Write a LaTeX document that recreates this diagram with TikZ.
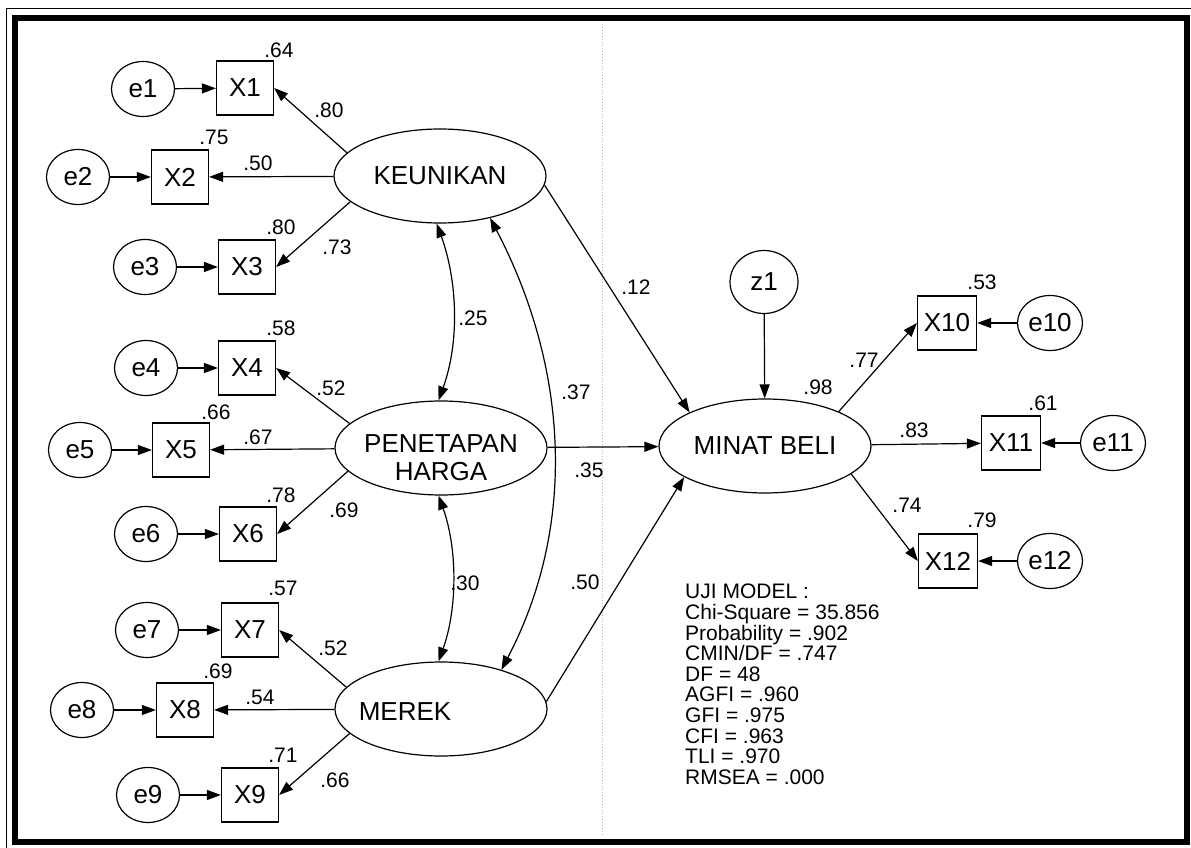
\documentclass[tikz,border=0pt]{standalone}
\usepackage{fontspec}
\setmainfont{Liberation Sans}
\usetikzlibrary{arrows.meta,shapes.geometric}
\begin{document}
\begin{tikzpicture}[x=1pt,y=-1pt,
  lat/.style={draw,ellipse,line width=1.2pt,minimum width=212pt,minimum height=94pt,inner sep=0pt,font=\fontsize{26}{28}\selectfont},
  obs/.style={draw,rectangle,line width=1.2pt,minimum width=57pt,minimum height=54pt,inner sep=0pt,font=\fontsize{26}{28}\selectfont},
  err/.style={draw,ellipse,line width=1.2pt,minimum width=63pt,minimum height=55pt,inner sep=0pt,font=\fontsize{26}{28}\selectfont},
  txt/.style={inner sep=0pt,font=\fontsize{26}{28}\selectfont},
  lbl/.style={inner sep=0pt,font=\fontsize{21}{21}\selectfont},
  arr/.style={line width=1.2pt,-{Triangle[length=14pt,width=10pt]}},
  cov/.style={line width=1.2pt,{Triangle[length=14pt,width=10pt]}-{Triangle[length=14pt,width=10pt]}}]
\useasboundingbox (0,0) rectangle (1191,848);
\fill[white] (0,0) rectangle (1191,848);
% frame
\draw[line width=6pt] (15,18.5) rectangle (1187,841.5);
\draw[line width=1pt] (6,848) -- (6,9) -- (1191,9);
\draw[gray!60,line width=1pt,dotted] (602,24) -- (602,836);

% latent variables
\node[lat] (K) at (440,176) {KEUNIKAN};
\node[lat] (P) at (441,448) {};
\node[txt,align=center] (Pt) at (441,458) {PENETAPAN\\HARGA};
\node[lat] (M) at (441,709) {};
\node[txt] (Mt) at (405,712) {MEREK};
\node[lat] (MB) at (765,446) {MINAT BELI};
\node[err,minimum width=68pt,minimum height=63pt] (z1) at (764,282) {z1};

% indicators
\node[obs] (X1) at (245,88) {X1};
\node[obs] (X2) at (180,177) {X2};
\node[obs] (X3) at (247,267) {X3};
\node[obs] (X4) at (247,368) {X4};
\node[obs] (X5) at (181,450) {X5};
\node[obs] (X6) at (248,534) {X6};
\node[obs] (X7) at (250,630) {X7};
\node[obs] (X8) at (185,710) {X8};
\node[obs] (X9) at (250,795) {X9};
\node[obs,minimum width=59pt] (X10) at (947,323) {X10};
\node[obs,minimum width=59pt] (X11) at (1011,443) {X11};
\node[obs,minimum width=59pt] (X12) at (948,561) {X12};

% errors
\node[err] (e1) at (143,89) {e1};
\node[err] (e2) at (78,177) {e2};
\node[err] (e3) at (145,267) {e3};
\node[err] (e4) at (146,368) {e4};
\node[err] (e5) at (80,450) {e5};
\node[err] (e6) at (146,534) {e6};
\node[err] (e7) at (147,630) {e7};
\node[err] (e8) at (82,710) {e8};
\node[err] (e9) at (148,795) {e9};
\node[err,minimum width=65pt] (e10) at (1050,323) {e10};
\node[err,minimum width=65pt] (e11) at (1113,443) {e11};
\node[err,minimum width=65pt] (e12) at (1050,561) {e12};

% error arrows
\foreach \i in {1,...,12} {\draw[arr] (e\i) -- (X\i);}

% loadings
\draw[arr] (K.166) -- (X1.east);
\draw[arr] (K) -- (X2);
\draw[arr] (K.196) -- (X3.east);
\draw[arr] (P.165) -- (X4.east);
\draw[arr] (P) -- (X5);
\draw[arr] (P.194) -- (X6.east);
\draw[arr] (M.167) -- (X7.east);
\draw[arr] (M) -- (X8);
\draw[arr] (M.195) -- (X9.east);
\draw[arr] (MB.25) -- (X10.west);
\draw[arr] (MB) -- (X11);
\draw[arr] (MB.-18) -- (X12.west);

% structural paths
\draw[arr] (K.-5) -- (MB.156);
\draw[arr] (P) -- (MB);
\draw[arr] (M.4) -- (MB.201);
\draw[arr] (z1) -- (MB);

% covariances
\draw[cov] (K.266) .. controls +(21,58) and +(21,-58) .. (P.93);
\draw[cov] (P.267) .. controls +(19,53) and +(19,-53) .. (M.93);
\draw[cov] (K.-40) .. controls +(77,147) and +(77,-147) .. (M.33);

% labels
\node[lbl] (l1) at (279,50) {.64};
\node[lbl] (l2) at (329,110) {.80};
\node[lbl] (l3) at (214,137) {.75};
\node[lbl] (l4) at (258,163) {.50};
\node[lbl] (l5) at (281,227) {.80};
\node[lbl] (l6) at (337,247) {.73};
\node[lbl] (l7) at (473,318) {.25};
\node[lbl] (l8) at (281,328) {.58};
\node[lbl] (l9) at (331,388) {.52};
\node[lbl] (l10) at (576,392) {.37};
\node[lbl] (l11) at (216,412) {.66};
\node[lbl] (l12) at (258,437) {.67};
\node[lbl] (l13) at (281,495) {.78};
\node[lbl] (l14) at (344,510) {.69};
\node[lbl] (l15) at (465,583) {.30};
\node[lbl] (l16) at (585,582) {.50};
\node[lbl] (l17) at (589,470) {.35};
\node[lbl] (l18) at (283,588) {.57};
\node[lbl] (l19) at (333,648) {.52};
\node[lbl] (l20) at (218,671) {.69};
\node[lbl] (l21) at (260,697) {.54};
\node[lbl] (l22) at (283,755) {.71};
\node[lbl] (l23) at (335,780) {.66};
\node[lbl] (l24) at (636,287) {.12};
\node[lbl] (l25) at (818,387) {.98};
\node[lbl] (l26) at (864,360) {.77};
\node[lbl] (l27) at (982,282) {.53};
\node[lbl] (l28) at (914,430) {.83};
\node[lbl] (l29) at (1043,403) {.61};
\node[lbl] (l30) at (907,505) {.74};
\node[lbl] (l31) at (982,520) {.79};

% fit statistics
\node[inner sep=0pt,anchor=north west,align=left,font=\fontsize{21}{20.6}\selectfont] (fit) at (685,584)
 {UJI MODEL :\\Chi-Square = 35.856\\Probability = .902\\CMIN/DF = .747\\DF = 48\\AGFI = .960\\GFI = .975\\CFI = .963\\TLI = .970\\RMSEA = .000};
\end{tikzpicture}
\end{document}
